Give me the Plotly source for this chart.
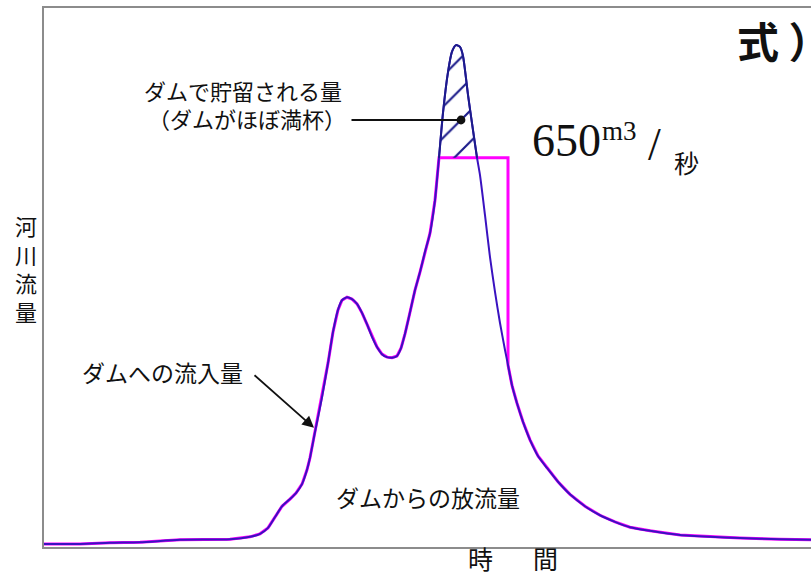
import plotly.graph_objects as go

# ---- data (time in hours, flow in m3/s) ----
TIME_H = [0, 3.6, 6.6, 9.6, 13.6, 18.6, 20.6, 21.6, 22.4, 23.1, 23.8, 24.6, 25.2, 25.8,
          26.3, 26.6, 27.1, 27.8, 28.4, 28.9, 29.4, 29.8, 30.3, 30.8, 31.3, 31.8, 32.3,
          32.8, 33.3, 33.8, 34.3, 34.8, 35.3, 35.7, 36.1, 36.6, 37.1, 37.6, 38.1, 38.6,
          39.1, 39.5, 39.9, 40.4, 40.8, 41.2, 41.6, 41.9, 42.4, 42.9, 43.3, 43.6, 44.1,
          44.6, 45.1, 45.6, 46.1, 46.4, 46.8, 47.3, 47.9, 48.6, 49.4, 50.3, 51.4, 52.6,
          54.1, 55.6, 57.1, 58.6, 60.6, 63.6, 66.6, 69.6, 73.6, 76.7]
INFLOW = [5, 5, 7, 8, 12, 13, 17, 22, 32, 50, 68, 80, 90, 105,
          129, 149, 192, 250, 307, 359, 396, 412, 417, 414, 406, 391, 372,
          351, 334, 322, 317, 316, 319, 332, 356, 392, 429, 459, 493, 524,
          579, 650, 725, 793, 827, 838, 835, 820, 755, 696, 650, 621, 554,
          484, 426, 374, 329, 304, 270, 240, 209, 179, 152, 132, 109, 88,
          68, 53, 42, 33, 27, 20, 17, 15, 13, 12]

CAP = 650          # release limit (m3/s)
CAP_START = 39.5   # time when inflow reaches the limit
CAP_END = 46.4     # time when release returns to inflow
STORE_END = 43.3   # time when inflow falls back below the limit

# outflow: equal to inflow, held at the cap while the dam stores water
out_t, out_q = [], []
for t, q in zip(TIME_H, INFLOW):
    if t < CAP_START:
        out_t.append(t); out_q.append(q)
out_t += [CAP_START, CAP_END]
out_q += [CAP, CAP]
for t, q in zip(TIME_H, INFLOW):
    if t >= CAP_END:
        out_t.append(t); out_q.append(q)

# stored volume region (inflow above cap)
st_t = [t for t in TIME_H if CAP_START <= t <= STORE_END]
st_q = [q for t, q in zip(TIME_H, INFLOW) if CAP_START <= t <= STORE_END]

JP = "Noto Sans CJK JP"
fig = go.Figure()
fig.add_trace(go.Scatter(x=out_t, y=out_q, mode="lines",
                         line=dict(color="#ff00ff", width=3), hoverinfo="skip"))
fig.add_trace(go.Scatter(x=TIME_H, y=INFLOW, mode="lines",
                         line=dict(color="#3a12c0", width=2, shape="spline", smoothing=0.6),
                         hoverinfo="skip"))
fig.add_trace(go.Scatter(x=st_t, y=st_q, mode="lines", fill="toself",
                         fillcolor="rgba(0,0,0,0)",
                         fillpattern=dict(shape="/", fgcolor="#1c1c8a", bgcolor="rgba(0,0,0,0)",
                                          fgopacity=1, size=22, solidity=0.1),
                         line=dict(color="#1c1c8a", width=2, shape="spline", smoothing=0.6),
                         hoverinfo="skip"))

ann = []
def txt(x, y, s, size, xref="x", yref="y", font=JP, color="#111", **kw):
    d = dict(x=x, y=y, xref=xref, yref=yref, text=s, showarrow=False,
             font=dict(family=font, size=size, color=color))
    d.setdefault("xanchor", "center"); d.setdefault("yanchor", "middle")
    d.update(kw)
    ann.append(d)

txt(19.9, 763, "ダムで貯留される量", 22)
txt(20.3, 716, "（ダムがほぼ満杯）", 22)
txt(11.8, 292, "ダムへの流入量", 23)
txt(38.4, 84, "ダムからの放流量", 23)
txt(52.2, 678, "650", 46, font="Liberation Serif")
txt(57.5, 695, "m3", 27, font="Liberation Serif")
txt(61.0, 672, "/", 46, font="Liberation Serif")
txt(64.2, 643, "秒", 25)
txt(43.6, -0.021, "時", 25, yref="paper")
txt(50.1, -0.021, "間", 25, yref="paper")
txt(-0.0235, 0.518, "河<br>川<br>流<br>量", 22, xref="paper", yref="paper")
txt(69.1, 848, "<b>式 ）</b>", 42, xanchor="left")

# pointer to stored volume
ann.append(dict(x=41.7, y=713, ax=30.6, ay=713, xref="x", yref="y", axref="x", ayref="y",
                text="", showarrow=True, arrowhead=6, arrowsize=1.1, arrowwidth=2,
                arrowcolor="#111", standoff=0, startstandoff=0))
# arrow to inflow curve
ann.append(dict(x=27.0, y=199, ax=20.9, ay=289, xref="x", yref="y", axref="x", ayref="y",
                text="", showarrow=True, arrowhead=2, arrowsize=1.3, arrowwidth=1.8,
                arrowcolor="#111", standoff=0, startstandoff=0))

fig.update_layout(
    width=811, height=575, margin=dict(l=44, r=0, t=8, b=28),
    paper_bgcolor="white", plot_bgcolor="white", showlegend=False,
    annotations=ann,
    xaxis=dict(range=[0, 76.7], showgrid=False, zeroline=False, showticklabels=False,
               ticks="", showline=True, mirror=True, linecolor="#8c8c8c", linewidth=1.5),
    yaxis=dict(range=[0, 900], showgrid=False, zeroline=False, showticklabels=False,
               ticks="", showline=True, linecolor="#8c8c8c", linewidth=1.5),
)

fig.write_html("out.html", config={"displayModeBar": False},
               post_script="document.body.style.margin='0';")
